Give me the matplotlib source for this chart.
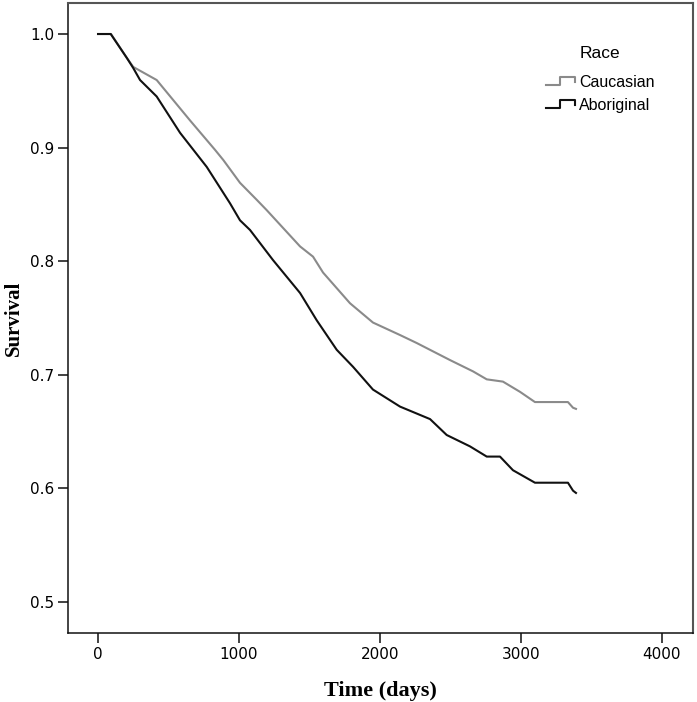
import matplotlib
matplotlib.use("Agg")
import matplotlib.pyplot as plt
from matplotlib.legend_handler import HandlerBase
from matplotlib.lines import Line2D

# Kaplan-Meier survival estimates
caucasian_days = [0, 92, 204, 250, 416, 652, 830, 889, 1007, 1126, 1196, 1433,
                  1525, 1596, 1787, 1950, 2142, 2260, 2496, 2660, 2757, 2872,
                  2993, 3099, 3333, 3369, 3390]
caucasian_surv = [1.0, 1.0, 0.979, 0.971, 0.9595, 0.924, 0.898, 0.889, 0.869,
                  0.854, 0.845, 0.813, 0.804, 0.790, 0.763, 0.746, 0.735,
                  0.728, 0.713, 0.703, 0.696, 0.694, 0.685, 0.676, 0.676,
                  0.671, 0.670]

aboriginal_days = [0, 90, 204, 250, 298, 416, 582, 771, 936, 1007, 1078, 1241,
                   1433, 1551, 1693, 1809, 1950, 2142, 2355, 2473, 2638, 2757,
                   2851, 2943, 3099, 3333, 3369, 3390]
aboriginal_surv = [1.0, 1.0, 0.979, 0.970, 0.9595, 0.945, 0.913, 0.883, 0.851,
                   0.836, 0.8275, 0.801, 0.772, 0.748, 0.722, 0.707, 0.687,
                   0.672, 0.661, 0.647, 0.637, 0.628, 0.628, 0.616, 0.605,
                   0.605, 0.598, 0.596]

x_ticks = [0, 1000, 2000, 3000, 4000]
y_ticks = [0.5, 0.6, 0.7, 0.8, 0.9, 1.0]


class StepHandler(HandlerBase):
    # little step glyph like the SPSS legend
    def create_artists(self, legend, orig_handle, xdescent, ydescent,
                       width, height, fontsize, trans):
        x0, y0 = -xdescent, -ydescent
        xm = x0 + 0.48 * width
        xs = [x0, xm, xm, x0 + width, x0 + width]
        ys = [y0 + 0.1 * height, y0 + 0.1 * height, y0 + 0.95 * height,
              y0 + 0.95 * height, y0 + 0.35 * height]
        ln = Line2D(xs, ys, color=orig_handle.get_color(),
                    lw=orig_handle.get_linewidth())
        ln.set_transform(trans)
        return [ln]


fig = plt.figure(figsize=(6.97, 7.02), dpi=100)
ax = fig.add_axes([68 / 697, 1 - 633 / 702, 625 / 697, 630 / 702])

l1, = ax.plot(caucasian_days, caucasian_surv, color="#8a8a8a", lw=1.5,
              label="Caucasian")
l2, = ax.plot(aboriginal_days, aboriginal_surv, color="#111111", lw=1.5,
              label="Aboriginal")

ax.set_xlim(-213, 4220)
ax.set_ylim(0.4727, 1.0273)
ax.set_xticks(x_ticks)
ax.set_yticks(y_ticks)
ax.set_yticklabels(["%.1f" % v for v in y_ticks])

ax.tick_params(direction="out", length=7.5, width=1.3, color="#333333",
               labelsize=11, pad=2.5)

for side in ["left", "bottom"]:
    ax.spines[side].set_color("#111111")
    ax.spines[side].set_linewidth(1.1)
for side in ["top", "right"]:
    ax.spines[side].set_color("#555555")
    ax.spines[side].set_linewidth(1.5)

ax.set_xlabel("Time (days)", family="Liberation Serif", weight="bold",
              fontsize=16, labelpad=14)
ax.set_ylabel("Survival", family="Liberation Serif", weight="bold",
              fontsize=15)
ax.yaxis.set_label_coords(-0.07, 0.5)

leg = ax.legend(handles=[l1, l2], title="Race", loc="upper left",
                bbox_to_anchor=(0.765, 0.932), frameon=False,
                handler_map={Line2D: StepHandler()},
                prop={"family": "Liberation Sans", "size": 11.5},
                title_fontproperties={"family": "Liberation Sans", "size": 12.5},
                handlelength=1.8, handleheight=0.5, handletextpad=0.25,
                labelspacing=0.5, borderpad=0, borderaxespad=0)
leg._legend_box.sep = 10

fig.savefig("out.png", dpi=100)
